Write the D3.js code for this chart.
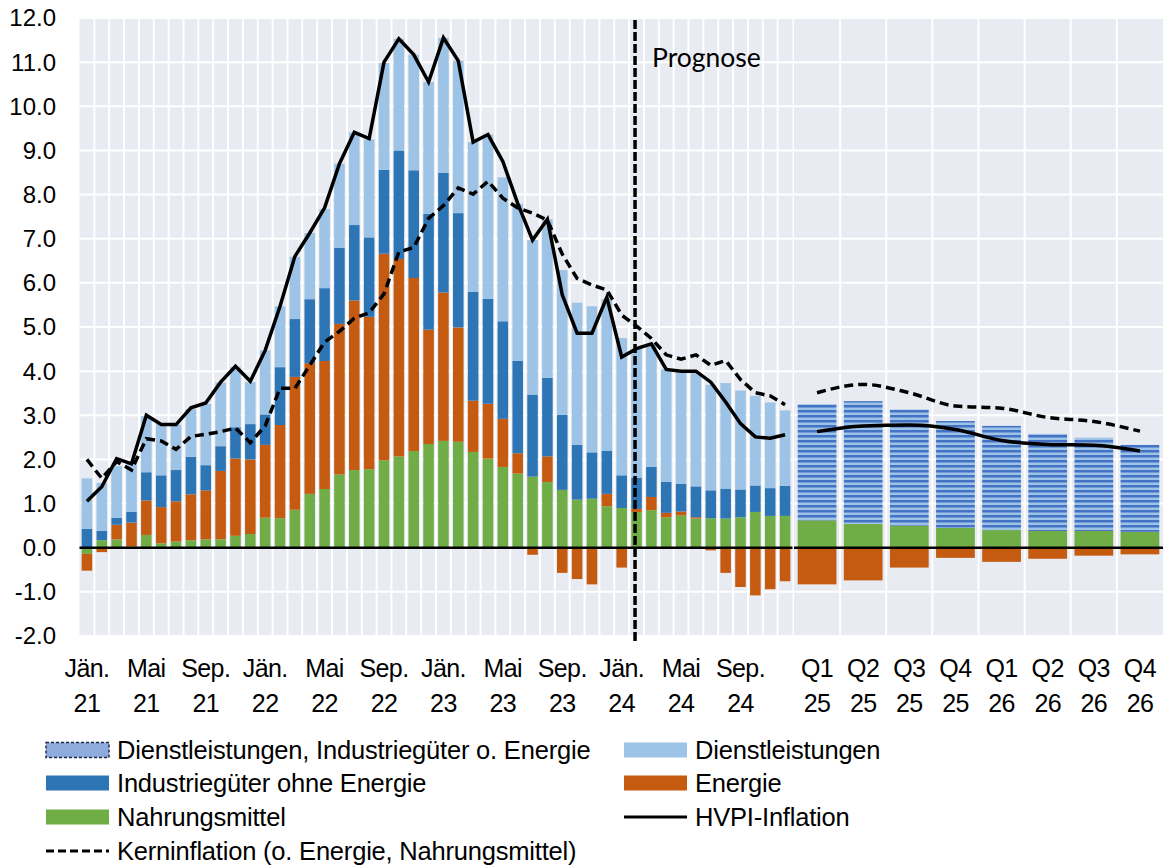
<!DOCTYPE html>
<html>
<head>
<meta charset="utf-8">
<script src="https://cdn.jsdelivr.net/npm/d3@7"></script>
<style>
  body { margin: 0; background: #fff; }
  svg text { font-family: "Liberation Sans", Arial, sans-serif; fill: #000; }
</style>
</head>
<body>
<div id="chart"></div>
<script>
// monthly data, Jän. 21 - Dez. 24
var monthTicks = ['Jän.|21', 'Mai|21', 'Sep.|21', 'Jän.|22', 'Mai|22', 'Sep.|22', 'Jän.|23', 'Mai|23', 'Sep.|23', 'Jän.|24', 'Mai|24', 'Sep.|24']
var food = [-0.14, 0.17, 0.19, 0.03, 0.29, 0.10, 0.14, 0.17, 0.19, 0.19, 0.27, 0.31,
  0.68, 0.67, 0.86, 1.22, 1.33, 1.66, 1.76, 1.78, 1.98, 2.07, 2.19, 2.35,
  2.42, 2.40, 2.17, 2.02, 1.83, 1.68, 1.61, 1.49, 1.31, 1.09, 1.11, 0.94,
  0.90, 0.81, 0.85, 0.69, 0.73, 0.66, 0.67, 0.66, 0.69, 0.81, 0.72, 0.72]
var energy = [-0.38, -0.10, 0.33, 0.54, 0.78, 0.82, 0.91, 1.04, 1.11, 1.55, 1.75, 1.69,
  1.65, 2.11, 3.01, 2.96, 2.90, 3.41, 3.84, 3.45, 4.68, 4.47, 3.92, 2.59,
  3.36, 2.59, 1.16, 1.24, 1.09, 0.46, -0.16, 0.58, -0.57, -0.71, -0.83, 0.28,
  -0.45, 0.07, 0.30, 0.10, 0.09, 0.03, -0.06, -0.57, -0.89, -1.08, -0.94, -0.76]
var goods = [0.43, 0.21, 0.16, 0.24, 0.64, 0.72, 0.71, 0.85, 0.57, 0.56, 0.71, 0.80,
  0.69, 1.31, 1.31, 1.45, 1.65, 1.72, 1.71, 1.80, 1.90, 2.46, 2.44, 2.62,
  2.71, 2.59, 2.47, 2.38, 2.21, 2.09, 1.86, 1.78, 1.70, 1.24, 1.05, 0.98,
  0.74, 0.71, 0.68, 0.70, 0.63, 0.70, 0.63, 0.68, 0.63, 0.60, 0.63, 0.68]
var services = [1.14, 1.09, 1.17, 1.14, 1.27, 1.16, 1.03, 1.08, 1.39, 1.44, 1.36, 0.95,
  1.45, 1.38, 1.41, 1.50, 1.79, 1.91, 2.10, 2.22, 2.42, 2.53, 2.62, 2.99,
  3.06, 3.45, 3.39, 3.72, 3.26, 3.56, 3.50, 3.59, 3.28, 3.22, 3.31, 3.43,
  3.11, 2.91, 2.79, 2.55, 2.55, 2.58, 2.39, 2.39, 2.24, 2.03, 1.94, 1.71]
var hicp = [1.05, 1.38, 2.02, 1.90, 3.00, 2.79, 2.79, 3.17, 3.28, 3.75, 4.11, 3.77,
  4.47, 5.47, 6.60, 7.13, 7.70, 8.70, 9.41, 9.27, 11.00, 11.53, 11.17, 10.55,
  11.55, 11.03, 9.19, 9.36, 8.75, 7.80, 6.97, 7.44, 5.73, 4.86, 4.86, 5.67,
  4.32, 4.51, 4.62, 4.04, 4.00, 4.00, 3.75, 3.30, 2.81, 2.51, 2.48, 2.56]
var core = [2.00, 1.57, 1.95, 1.76, 2.47, 2.42, 2.23, 2.52, 2.57, 2.63, 2.71, 2.38,
  2.76, 3.61, 3.61, 4.13, 4.66, 4.90, 5.20, 5.32, 5.75, 6.70, 6.80, 7.46,
  7.75, 8.15, 8.01, 8.30, 7.92, 7.70, 7.58, 7.42, 6.65, 6.10, 5.95, 5.84,
  5.27, 5.02, 4.74, 4.37, 4.27, 4.37, 4.13, 4.24, 3.81, 3.51, 3.44, 3.24]

// quarterly projection 2025-2026
var quarters = ['Q1|25', 'Q2|25', 'Q3|25', 'Q4|25', 'Q1|26', 'Q2|26', 'Q3|26', 'Q4|26']
var qFood = [0.62, 0.54, 0.50, 0.45, 0.40, 0.38, 0.38, 0.36]
var qEnergy = [-0.83, -0.74, -0.45, -0.23, -0.32, -0.25, -0.18, -0.15]
var qCoreGoods = [2.63, 2.78, 2.63, 2.42, 2.36, 2.20, 2.11, 1.97]
var qHicp = [2.63, 2.76, 2.78, 2.68, 2.43, 2.34, 2.32, 2.19]
var qCore = [3.51, 3.70, 3.51, 3.21, 3.16, 2.95, 2.86, 2.64]

var yTicks = [-2, -1, 0, 1, 2, 3, 4, 5, 6, 7, 8, 9, 10, 11, 12]
var forecastStart = 37

var colors = { food: '#70ad47', energy: '#c55a11', goods: '#2e75b6', services: '#9dc3e6' }

var width = 1165
var height = 868
var plotTop = 18
var plotBottom = 636

var svg = d3.select('#chart')
  .append('svg')
  .attr('width', width)
  .attr('height', height)

var defs = svg.append('defs')
var pattern = defs.append('pattern')
  .attr('id', 'stripes')
  .attr('patternUnits', 'userSpaceOnUse')
  .attr('width', 10)
  .attr('height', 5)
pattern.append('rect').attr('width', 10).attr('height', 5).attr('fill', '#9dc3e6')
pattern.append('rect').attr('width', 10).attr('height', 2.5).attr('fill', '#4472c4')

// scales
var y = d3.scaleLinear().domain([-2, 12]).range([plotBottom, plotTop])

var xm = d3.scaleBand()
  .domain(d3.range(food.length))
  .range([79.5, 792.5])
  .paddingInner(0.29)
  .paddingOuter(0.145)

var xq = d3.scaleBand()
  .domain(quarters)
  .range([794, 1163])
  .paddingInner(0.16)
  .paddingOuter(0.08)

// panel backgrounds + grid
function drawPanel(x, n) {
  var r = x.range()
  var g = svg.append('g')
  g.append('rect')
    .attr('x', r[0]).attr('y', plotTop)
    .attr('width', r[1] - r[0]).attr('height', plotBottom - plotTop)
    .attr('fill', '#e9ebf2')
  g.selectAll('.hgrid')
    .data(yTicks)
    .enter()
    .append('line')
    .attr('x1', r[0]).attr('x2', r[1])
    .attr('y1', d => y(d)).attr('y2', d => y(d))
    .attr('stroke', '#fff').attr('stroke-width', 2)
  g.selectAll('.vgrid')
    .data(d3.range(1, n))
    .enter()
    .append('line')
    .attr('x1', d => r[0] + d * x.step()).attr('x2', d => r[0] + d * x.step())
    .attr('y1', plotTop).attr('y2', plotBottom)
    .attr('stroke', '#fff').attr('stroke-width', 2)
}
drawPanel(xm, food.length)
drawPanel(xq, quarters.length)

// monthly stacked bars
var monthRows = food.map((d, i) => ({ i: i, food: d, energy: energy[i], goods: goods[i], services: services[i] }))
var monthKeys = ['food', 'energy', 'goods', 'services']
var monthStack = d3.stack().keys(monthKeys).offset(d3.stackOffsetDiverging)(monthRows)

svg.append('g')
  .selectAll('g')
  .data(monthStack)
  .enter()
  .append('g')
  .attr('fill', d => colors[d.key])
  .selectAll('rect')
  .data(d => d)
  .enter()
  .append('rect')
  .attr('x', d => xm(d.data.i))
  .attr('width', xm.bandwidth())
  .attr('y', d => y(Math.max(d[0], d[1])))
  .attr('height', d => Math.abs(y(d[0]) - y(d[1])))

// quarterly stacked bars
var qRows = quarters.map((q, i) => ({ q: q, food: qFood[i], energy: qEnergy[i], combined: qCoreGoods[i] }))
var qStack = d3.stack().keys(['food', 'energy', 'combined']).offset(d3.stackOffsetDiverging)(qRows)
var qFill = { food: colors.food, energy: colors.energy, combined: 'url(#stripes)' }

svg.append('g')
  .selectAll('g')
  .data(qStack)
  .enter()
  .append('g')
  .attr('fill', d => qFill[d.key])
  .selectAll('rect')
  .data(d => d)
  .enter()
  .append('rect')
  .attr('x', d => xq(d.data.q))
  .attr('width', xq.bandwidth())
  .attr('y', d => y(Math.max(d[0], d[1])))
  .attr('height', d => Math.abs(y(d[0]) - y(d[1])))

// zero lines
;[xm, xq].forEach(function (x) {
  var r = x.range()
  svg.append('line')
    .attr('x1', r[0]).attr('x2', r[1])
    .attr('y1', y(0)).attr('y2', y(0))
    .attr('stroke', '#000').attr('stroke-width', 2.5)
})

// lines
var mLine = d3.line().x((d, i) => xm(i) + xm.bandwidth() / 2).y(d => y(d))
var qLine = d3.line().x((d, i) => xq(quarters[i]) + xq.bandwidth() / 2).y(d => y(d)).curve(d3.curveMonotoneX)

svg.append('path').attr('d', mLine(core))
  .attr('fill', 'none').attr('stroke', '#000').attr('stroke-width', 3.5).attr('stroke-dasharray', '9,5')
svg.append('path').attr('d', mLine(hicp))
  .attr('fill', 'none').attr('stroke', '#000').attr('stroke-width', 3.5).attr('stroke-linejoin', 'miter')
svg.append('path').attr('d', qLine(qCore))
  .attr('fill', 'none').attr('stroke', '#000').attr('stroke-width', 3.5).attr('stroke-dasharray', '9,5')
svg.append('path').attr('d', qLine(qHicp))
  .attr('fill', 'none').attr('stroke', '#000').attr('stroke-width', 3.5)

// Prognose marker
var fx = xm(forecastStart) + xm.bandwidth() / 2 - 1.5
svg.append('line')
  .attr('x1', fx).attr('x2', fx)
  .attr('y1', y(12) + 2).attr('y2', plotBottom + 5)
  .attr('stroke', '#000').attr('stroke-width', 3.5).attr('stroke-dasharray', '9,3')
svg.append('text')
  .attr('x', fx + 17).attr('y', 67)
  .style('font-family', 'Lato, "Open Sans", sans-serif')
  .style('font-size', '26.5px')
  .text('Prognose')

// y axis labels
svg.append('g')
  .selectAll('text')
  .data(yTicks)
  .enter()
  .append('text')
  .attr('x', 56)
  .attr('y', d => y(d))
  .attr('dy', '0.35em')
  .attr('text-anchor', 'end')
  .style('font-size', '24px')
  .text(d => d.toFixed(1))

// x axis labels
function xLabels(data, xpos) {
  var t = svg.append('g')
    .selectAll('text')
    .data(data)
    .enter()
    .append('text')
    .attr('text-anchor', 'middle')
    .style('font-size', '25px')
    .style('letter-spacing', '-0.6px')
  t.append('tspan').attr('x', xpos).attr('y', 677).text(d => d.label.split('|')[0])
  t.append('tspan').attr('x', xpos).attr('y', 712).text(d => d.label.split('|')[1])
}
xLabels(monthTicks.map((l, k) => ({ label: l, idx: k * 4 })), d => xm(d.idx) + xm.bandwidth() / 2)
xLabels(quarters.map(q => ({ label: q, q: q })), d => xq(d.q) + xq.bandwidth() / 2)

// legend
var legendItems = [
  { label: 'Dienstleistungen, Industriegüter o. Energie', type: 'hatch', col: 0, row: 0 },
  { label: 'Dienstleistungen', type: 'services', col: 1, row: 0 },
  { label: 'Industriegüter ohne Energie', type: 'goods', col: 0, row: 1 },
  { label: 'Energie', type: 'energy', col: 1, row: 1 },
  { label: 'Nahrungsmittel', type: 'food', col: 0, row: 2 },
  { label: 'HVPI-Inflation', type: 'solid', col: 1, row: 2 },
  { label: 'Kerninflation (o. Energie, Nahrungsmittel)', type: 'dashed', col: 0, row: 3 }
]
var legendX = [46, 624]
var legendY = [750, 783, 817, 851]

var leg = svg.append('g')
  .selectAll('g')
  .data(legendItems)
  .enter()
  .append('g')
  .attr('transform', d => 'translate(' + legendX[d.col] + ',' + legendY[d.row] + ')')

leg.each(function (d) {
  var g = d3.select(this)
  if (d.type === 'hatch') {
    g.append('rect').attr('x', 0).attr('y', -7.5).attr('width', 63).attr('height', 15)
      .attr('fill', '#8faadc').attr('stroke', '#1f2d4a').attr('stroke-width', 1.5).attr('stroke-dasharray', '3,2')
  } else if (d.type === 'solid' || d.type === 'dashed') {
    g.append('line').attr('x1', 0).attr('x2', 63).attr('y1', 0).attr('y2', 0)
      .attr('stroke', '#000').attr('stroke-width', 3)
      .attr('stroke-dasharray', d.type === 'dashed' ? '8,4' : null)
  } else {
    g.append('rect').attr('x', 0).attr('y', -7.5).attr('width', 63).attr('height', 15)
      .attr('fill', colors[d.type])
  }
  g.append('text')
    .attr('x', 71)
    .attr('dy', '0.35em')
    .style('font-size', '25.5px')
    .style('letter-spacing', '-0.2px')
    .text(d.label)
})
</script>
</body>
</html>
